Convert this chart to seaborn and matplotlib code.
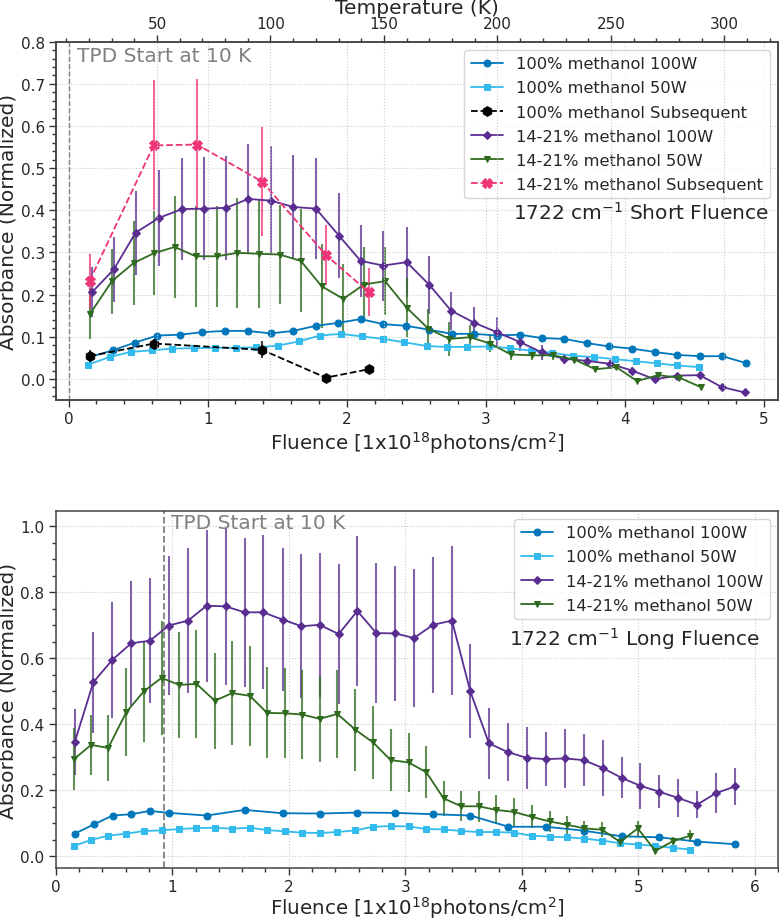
import pandas as pd
import matplotlib
matplotlib.use("Agg")
import matplotlib.pyplot as plt
import seaborn as sns
from matplotlib.ticker import MultipleLocator

sns.set_style("ticks")
plt.rcParams['font.family'] = ['DejaVu Sans']

# ---------- short fluence (top panel) ----------
s_m100_f = [0.151, 0.319, 0.475, 0.638, 0.804, 0.962, 1.128, 1.289, 1.452, 1.615, 1.778, 1.939, 2.100, 2.263, 2.426,
            2.590, 2.755, 2.918, 3.079, 3.242, 3.403, 3.564, 3.727, 3.888, 4.051, 4.214, 4.377, 4.538, 4.699, 4.867]
s_m100_a = [0.052, 0.068, 0.086, 0.103, 0.105, 0.111, 0.114, 0.114, 0.108, 0.114, 0.126, 0.133, 0.142, 0.130, 0.126,
            0.117, 0.107, 0.107, 0.103, 0.105, 0.097, 0.095, 0.085, 0.077, 0.072, 0.064, 0.057, 0.054, 0.054, 0.038]

s_m50_f = [0.142, 0.295, 0.446, 0.602, 0.746, 0.900, 1.051, 1.202, 1.351, 1.505, 1.656, 1.807, 1.956, 2.107, 2.263,
           2.412, 2.575, 2.719, 2.868, 3.019, 3.173, 3.324, 3.475, 3.626, 3.775, 3.926, 4.080, 4.229, 4.377, 4.533]
s_m50_a = [0.034, 0.052, 0.064, 0.068, 0.072, 0.073, 0.074, 0.074, 0.075, 0.079, 0.089, 0.103, 0.107, 0.101, 0.095,
           0.087, 0.078, 0.076, 0.076, 0.077, 0.073, 0.067, 0.062, 0.055, 0.052, 0.047, 0.042, 0.037, 0.032, 0.028]

s_msub_f = [0.151, 0.614, 1.392, 1.850, 2.157]
s_msub_a = [0.054, 0.084, 0.069, 0.003, 0.023]
s_msub_e = [0.014, 0.010, 0.020, 0.006, 0.006]

s_mix100_f = [0.170, 0.326, 0.482, 0.650, 0.816, 0.977, 1.135, 1.291, 1.454, 1.615, 1.778, 1.944, 2.100, 2.263, 2.431,
              2.594, 2.750, 2.918, 3.079, 3.242, 3.403, 3.559, 3.727, 3.890, 4.051, 4.214, 4.375, 4.538, 4.694, 4.860]
s_mix100_a = [0.206, 0.260, 0.347, 0.382, 0.403, 0.404, 0.406, 0.427, 0.423, 0.408, 0.404, 0.340, 0.280, 0.269, 0.277,
              0.223, 0.162, 0.133, 0.111, 0.088, 0.063, 0.048, 0.043, 0.036, 0.020, -0.001, 0.008, 0.009, -0.019, -0.032]
s_mix100_e = [0.060, 0.077, 0.100, 0.114, 0.120, 0.123, 0.124, 0.130, 0.130, 0.124, 0.120, 0.100, 0.085, 0.083, 0.083,
              0.069, 0.045, 0.038, 0.035, 0.022, 0.017, 0.012, 0.010, 0.008, 0.008, 0.006, 0.006, 0.006, 0.006, 0.006]

s_mix50_f = [0.156, 0.312, 0.468, 0.612, 0.763, 0.914, 1.068, 1.212, 1.366, 1.519, 1.670, 1.819, 1.975, 2.124, 2.275,
             2.431, 2.587, 2.738, 2.887, 3.031, 3.180, 3.331, 3.482, 3.636, 3.787, 3.938, 4.087, 4.238, 4.391, 4.543]
s_mix50_a = [0.155, 0.232, 0.275, 0.298, 0.313, 0.291, 0.291, 0.299, 0.297, 0.295, 0.280, 0.220, 0.190, 0.224, 0.232,
             0.169, 0.119, 0.095, 0.099, 0.084, 0.058, 0.056, 0.056, 0.046, 0.023, 0.028, -0.005, 0.009, 0.003, -0.019]
s_mix50_e = [0.060, 0.077, 0.100, 0.100, 0.120, 0.120, 0.120, 0.130, 0.128, 0.118, 0.122, 0.100, 0.083, 0.090, 0.080,
             0.070, 0.047, 0.040, 0.030, 0.020, 0.012, 0.010, 0.010, 0.008, 0.006, 0.006, 0.005, 0.005, 0.005, 0.008]

s_mixsub_f = [0.151, 0.612, 0.924, 1.392, 1.850, 2.157]
s_mixsub_a = [0.232, 0.554, 0.556, 0.468, 0.294, 0.206]
s_mixsub_e = [0.064, 0.154, 0.155, 0.130, 0.070, 0.057]

# ---------- long fluence (bottom panel) ----------
l_m100_f = [0.163, 0.326, 0.489, 0.648, 0.808, 0.974, 1.294, 1.622, 1.946, 2.265, 2.588, 2.911, 3.237, 3.557, 3.885,
            4.208, 4.531, 4.857, 5.180, 5.503, 5.829]
l_m100_a = [0.068, 0.096, 0.123, 0.127, 0.137, 0.131, 0.123, 0.140, 0.130, 0.129, 0.132, 0.131, 0.127, 0.123, 0.089,
            0.089, 0.077, 0.060, 0.057, 0.044, 0.036]

l_f50 = [0.157, 0.303, 0.451, 0.605, 0.757, 0.908, 1.060, 1.208, 1.365, 1.514, 1.665, 1.814, 1.965, 2.117, 2.265,
         2.417, 2.571, 2.722, 2.874, 3.028, 3.180, 3.328, 3.480, 3.628, 3.780, 3.931, 4.085, 4.237, 4.388, 4.537,
         4.688, 4.843, 4.994, 5.145, 5.294, 5.445]
l_m50_a = [0.031, 0.049, 0.062, 0.068, 0.076, 0.078, 0.082, 0.085, 0.086, 0.083, 0.086, 0.079, 0.075, 0.071, 0.070,
           0.073, 0.078, 0.089, 0.091, 0.090, 0.082, 0.081, 0.076, 0.073, 0.073, 0.071, 0.062, 0.059, 0.057, 0.053,
           0.047, 0.039, 0.035, 0.031, 0.025, 0.020]

l_mix100_f = [0.163, 0.323, 0.486, 0.648, 0.808, 0.971, 1.137, 1.294, 1.457, 1.622, 1.780, 1.946, 2.109, 2.265, 2.428,
              2.588, 2.751, 2.914, 3.074, 3.237, 3.400, 3.557, 3.717, 3.880, 4.040, 4.203, 4.368, 4.531, 4.694, 4.857,
              5.017, 5.180, 5.342, 5.503, 5.666, 5.829]
l_mix100_a = [0.345, 0.527, 0.595, 0.645, 0.653, 0.699, 0.714, 0.759, 0.757, 0.739, 0.739, 0.717, 0.697, 0.701, 0.673,
              0.743, 0.676, 0.675, 0.661, 0.701, 0.714, 0.500, 0.342, 0.315, 0.298, 0.294, 0.296, 0.291, 0.267, 0.237,
              0.213, 0.195, 0.176, 0.156, 0.191, 0.211]
l_mix100_e = [0.100, 0.153, 0.176, 0.190, 0.190, 0.210, 0.220, 0.230, 0.237, 0.226, 0.233, 0.217, 0.219, 0.218, 0.213,
              0.227, 0.212, 0.204, 0.210, 0.207, 0.225, 0.143, 0.108, 0.088, 0.094, 0.082, 0.090, 0.080, 0.086, 0.062,
              0.070, 0.050, 0.057, 0.041, 0.061, 0.056]

l_mix50_a = [0.294, 0.337, 0.328, 0.436, 0.500, 0.540, 0.519, 0.522, 0.471, 0.494, 0.486, 0.434, 0.433, 0.429, 0.416,
             0.431, 0.383, 0.345, 0.291, 0.284, 0.254, 0.175, 0.151, 0.151, 0.140, 0.134, 0.119, 0.105, 0.095, 0.084,
             0.080, 0.043, 0.084, 0.016, 0.045, 0.062]
l_mix50_e = [0.094, 0.090, 0.100, 0.134, 0.153, 0.172, 0.161, 0.164, 0.145, 0.157, 0.152, 0.138, 0.136, 0.135, 0.130,
             0.133, 0.124, 0.110, 0.093, 0.090, 0.079, 0.053, 0.045, 0.047, 0.044, 0.043, 0.035, 0.032, 0.028, 0.023,
             0.022, 0.014, 0.023, 0.010, 0.012, 0.018]

C_BLUE = '#0077BB'
C_CYAN = '#33BBEE'
C_PURPLE = '#5A2D91'
C_GREEN = '#2F6B1F'
C_PINK = '#EE3377'


def draw(ax, f, a, err, color, marker, ms, ls, label):
    if err is not None:
        ax.errorbar(f, a, yerr=err, fmt='none', ecolor=color, elinewidth=1.5, alpha=0.75, capsize=0, zorder=2)
    df = pd.DataFrame({'f': f, 'a': a})
    sns.lineplot(data=df, x='f', y='a', ax=ax, color=color, marker=marker, markersize=ms,
                 markeredgecolor=color, linestyle=ls, linewidth=1.3, label=label,
                 sort=False, estimator=None, zorder=3)


def set_ticks(axis_obj):
    axis_obj.tick_params(which='major', length=5, width=1, labelsize=11, color='#333333', pad=3)
    axis_obj.tick_params(which='minor', length=3, width=1, color='#333333')


def style_axis(ax, ymajor, yminor, xpad):
    ax.xaxis.set_major_locator(MultipleLocator(1))
    ax.xaxis.set_minor_locator(MultipleLocator(0.2))
    ax.yaxis.set_major_locator(MultipleLocator(ymajor))
    ax.yaxis.set_minor_locator(MultipleLocator(yminor))
    set_ticks(ax)
    for s in ax.spines.values():
        s.set_color('#444444')
        s.set_linewidth(1.1)
    ax.grid(True, which='major', linestyle=':', color='#cccccc', linewidth=0.8)
    ax.set_xlabel('Fluence [1x10$^{18}$photons/cm$^2$]', fontsize=14.3, labelpad=xpad)
    ax.set_ylabel('Absorbance (Normalized)', fontsize=14.5)
    ax.yaxis.set_label_coords(-0.053, 0.5)


fig = plt.figure(figsize=(7.79, 9.2), dpi=100)
ax1 = fig.add_axes([0.0719, 0.5641, 0.9268, 0.3895])
ax3 = fig.add_axes([0.0715, 0.0551, 0.9276, 0.3887])

# top panel
draw(ax1, s_m100_f, s_m100_a, None, C_BLUE, 'o', 5, '-', '100% methanol 100W')
draw(ax1, s_m50_f, s_m50_a, None, C_CYAN, 's', 5, '-', '100% methanol 50W')
draw(ax1, s_msub_f, s_msub_a, s_msub_e, 'black', 'h', 7, '--', '100% methanol Subsequent')
draw(ax1, s_mix100_f, s_mix100_a, s_mix100_e, C_PURPLE, 'D', 4, '-', '14-21% methanol 100W')
draw(ax1, s_mix50_f, s_mix50_a, s_mix50_e, C_GREEN, 'v', 5, '-', '14-21% methanol 50W')
draw(ax1, s_mixsub_f, s_mixsub_a, s_mixsub_e, C_PINK, 'X', 7, '--', '14-21% methanol Subsequent')
ax1.axvline(0, color='gray', linestyle='--', linewidth=1)
ax1.set_xlim(-0.09, 5.1)
ax1.set_ylim(-0.05, 0.8)
style_axis(ax1, 0.1, 0.02, 2)
ax1.text(0.06, 0.79, 'TPD Start at 10 K', color='gray', fontsize=14.5, va='top', ha='left')
ax1.legend(loc='upper right', fontsize=11.7, handlelength=2, labelspacing=0.56)
ax1.text(0.988, 0.525, '1722 cm$^{-1}$ Short Fluence', transform=ax1.transAxes,
         fontsize=14.5, ha='right', va='center')

# temperature axis on top
ax2 = ax1.twiny()
ax2.set_xlim(11 + 61.3 * -0.09, 11 + 61.3 * 5.1)
ax2.xaxis.set_major_locator(MultipleLocator(50))
ax2.xaxis.set_minor_locator(MultipleLocator(10))
set_ticks(ax2)
ax2.grid(True, which='major', linestyle=':', color='#cccccc', linewidth=0.8)
ax2.set_xlabel('Temperature (K)', fontsize=14.5, labelpad=2)
for s in ax2.spines.values():
    s.set_color('#444444')
    s.set_linewidth(1.1)

# bottom panel
draw(ax3, l_m100_f, l_m100_a, None, C_BLUE, 'o', 5, '-', '100% methanol 100W')
draw(ax3, l_f50, l_m50_a, None, C_CYAN, 's', 5, '-', '100% methanol 50W')
draw(ax3, l_mix100_f, l_mix100_a, l_mix100_e, C_PURPLE, 'D', 4, '-', '14-21% methanol 100W')
draw(ax3, l_f50, l_mix50_a, l_mix50_e, C_GREEN, 'v', 5, '-', '14-21% methanol 50W')
ax3.axvline(0.928, color='gray', linestyle='--', linewidth=1.3)
ax3.set_xlim(0, 6.2)
ax3.set_ylim(-0.037, 1.047)
style_axis(ax3, 0.2, 0.05, 0)
ax3.text(0.99, 1.04, 'TPD Start at 10 K', color='gray', fontsize=14.5, va='top', ha='left')
ax3.legend(loc='upper right', fontsize=11.7, handlelength=2, labelspacing=0.56)
ax3.text(0.975, 0.644, '1722 cm$^{-1}$ Long Fluence', transform=ax3.transAxes,
         fontsize=14.5, ha='right', va='center')

fig.savefig('out.png', dpi=100)
